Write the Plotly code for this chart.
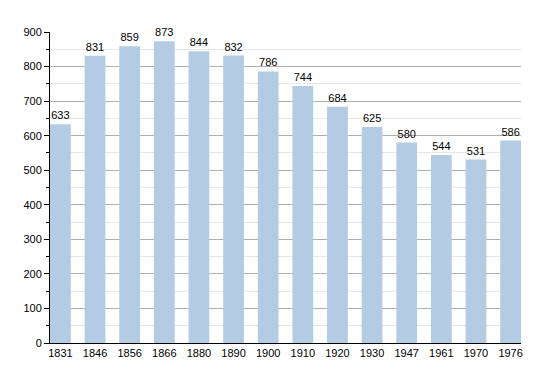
import plotly.graph_objects as go

years = ["1831", "1846", "1856", "1866", "1880", "1890", "1900", "1910", "1920", "1930", "1947", "1961", "1970", "1976"]
population = [633, 831, 859, 873, 844, 832, 786, 744, 684, 625, 580, 544, 531, 586]

fig = go.Figure(go.Bar(
    x=years, y=population,
    marker=dict(color="#b3cce4", line=dict(width=0)),
    text=[str(v) for v in population], textposition="outside",
    textfont=dict(family="Liberation Sans, Arial", size=11, color="#000"),
    cliponaxis=False,
))
fig.update_layout(
    width=542, height=365,
    margin=dict(l=42, r=29, t=24, b=30),
    plot_bgcolor="white", paper_bgcolor="white",
    bargap=0.4, showlegend=False,
    font=dict(family="Liberation Sans, Arial", size=11, color="#000"),
    xaxis=dict(type="category", range=[-0.3, 13.3], showgrid=False,
               showline=True, linecolor="#000", linewidth=1, ticks="",
               tickfont=dict(size=11)),
    yaxis=dict(range=[0, 900], tick0=0, dtick=100, showgrid=True, gridcolor="#b0b0b0", gridwidth=1,
               showline=True, linecolor="#000", linewidth=1, ticks="outside", ticklen=5, tickcolor="#000",
               zeroline=False, tickfont=dict(size=11),
               minor=dict(dtick=50, showgrid=True, gridcolor="#e6e6e6", ticks="outside", ticklen=3, tickcolor="#000")),
)
fig.write_html("out.html")
